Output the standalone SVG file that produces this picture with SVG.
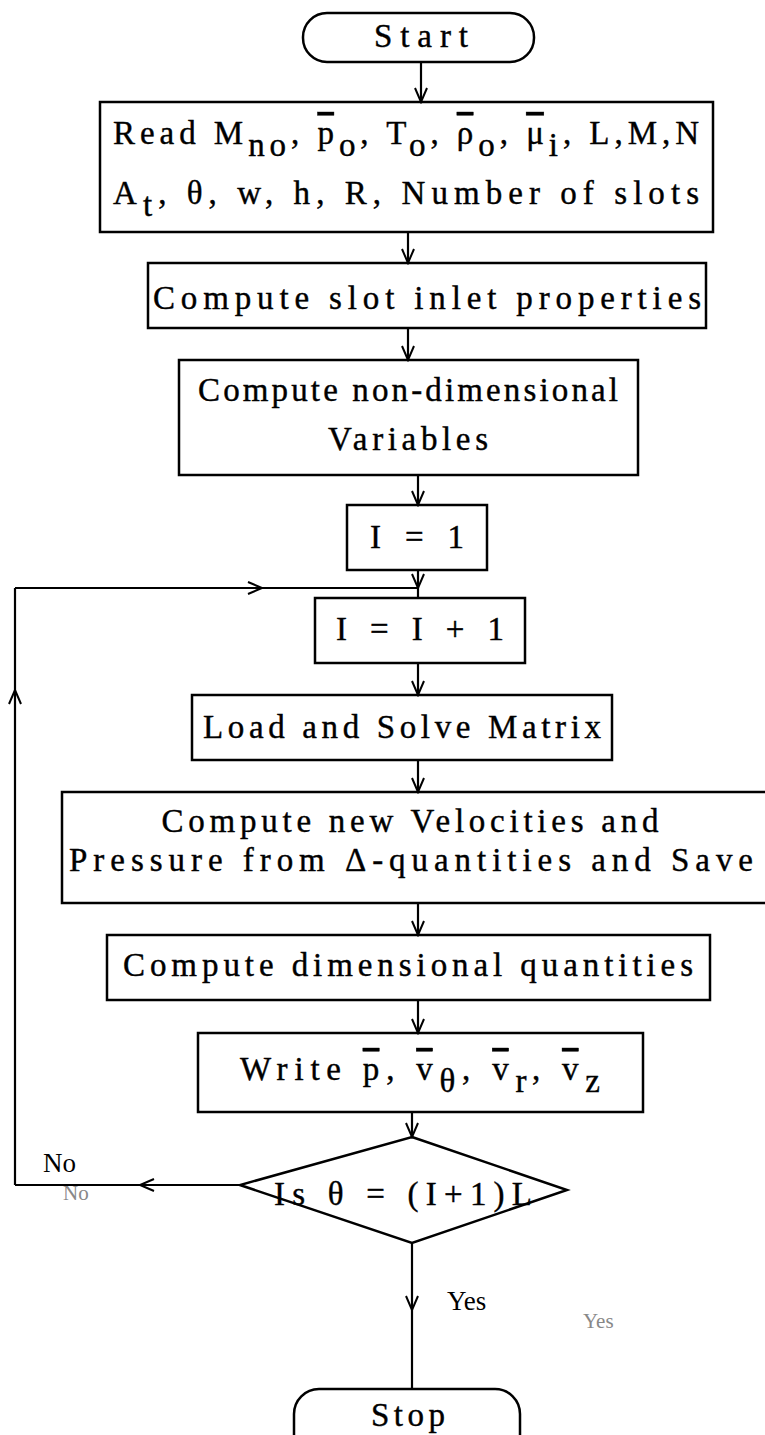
<svg xmlns="http://www.w3.org/2000/svg" width="765" height="1435" viewBox="0 0 765 1435">
<style>
.box{fill:none;stroke:#000;stroke-width:2.5}
.ln{fill:none;stroke:#000;stroke-width:2.2}
.t{font-family:"Liberation Serif","DejaVu Serif",serif;font-size:33px;fill:#000;stroke:#000;stroke-width:0.4;text-anchor:middle}
.ov{text-decoration:overline}
.lab{font-family:"Liberation Serif","DejaVu Serif",serif;font-size:27px;fill:#000}
.ghost{font-family:"Liberation Serif","DejaVu Serif",serif;font-size:21px;fill:#888}
</style>
<defs>
<marker id="arr" viewBox="-16 -9 18 18" refX="0" refY="0" markerWidth="18" markerHeight="18" markerUnits="userSpaceOnUse" orient="auto">
<path d="M-14,-6 L0,0 L-14,6" fill="none" stroke="#000" stroke-width="2"/>
</marker>
</defs>
<rect width="765" height="1435" fill="#fff"/>

<g id="connectors">
<line class="ln" x1="421" y1="62" x2="421" y2="102" marker-end="url(#arr)"/>
<line class="ln" x1="408" y1="232" x2="408" y2="263" marker-end="url(#arr)"/>
<line class="ln" x1="408" y1="328" x2="408" y2="360" marker-end="url(#arr)"/>
<line class="ln" x1="418" y1="475" x2="418" y2="505" marker-end="url(#arr)"/>
<line class="ln" x1="418" y1="570" x2="418" y2="588" marker-end="url(#arr)"/>
<line class="ln" x1="418" y1="588" x2="418" y2="598"/>
<line class="ln" x1="418" y1="663" x2="418" y2="695" marker-end="url(#arr)"/>
<line class="ln" x1="418" y1="760" x2="418" y2="792" marker-end="url(#arr)"/>
<line class="ln" x1="418" y1="903" x2="418" y2="935" marker-end="url(#arr)"/>
<line class="ln" x1="418" y1="1000" x2="418" y2="1033" marker-end="url(#arr)"/>
<line class="ln" x1="412" y1="1112" x2="412" y2="1137" marker-end="url(#arr)"/>
<line class="ln" x1="412" y1="1243" x2="412" y2="1310" marker-end="url(#arr)"/>
<line class="ln" x1="412" y1="1310" x2="412" y2="1389"/>
<line class="ln" x1="240" y1="1185" x2="140" y2="1185" marker-end="url(#arr)"/>
<line class="ln" x1="140" y1="1185" x2="15" y2="1185"/>
<line class="ln" x1="15" y1="1185" x2="15" y2="690" marker-end="url(#arr)"/>
<line class="ln" x1="15" y1="690" x2="15" y2="588"/>
<line class="ln" x1="15" y1="588" x2="262" y2="588" marker-end="url(#arr)"/>
<line class="ln" x1="262" y1="588" x2="418" y2="588"/>
</g>

<g id="start">
<rect class="box" x="303" y="13" width="231" height="49" rx="24" ry="24"/>
<text class="t" x="421" y="47" textLength="94" lengthAdjust="spacing">Start</text>
</g>

<g id="read">
<rect class="box" x="100" y="102" width="613" height="130"/>
<text class="t" x="406" y="144" textLength="586" lengthAdjust="spacing">Read M<tspan dy="12">no</tspan><tspan dy="-12">, </tspan><tspan class="ov">p</tspan><tspan dy="12">o</tspan><tspan dy="-12">, T</tspan><tspan dy="12">o</tspan><tspan dy="-12">, </tspan><tspan class="ov">ρ</tspan><tspan dy="12">o</tspan><tspan dy="-12">, </tspan><tspan class="ov">μ</tspan><tspan dy="12">i</tspan><tspan dy="-12">, L,M,N</tspan></text>
<text class="t" x="406" y="204" textLength="586" lengthAdjust="spacing">A<tspan dy="12">t</tspan><tspan dy="-12">, θ, w, h, R, Number of slots</tspan></text>
</g>

<g id="slot">
<rect class="box" x="148" y="263" width="558" height="65"/>
<text class="t" x="427" y="309" textLength="548" lengthAdjust="spacing">Compute slot inlet properties</text>
</g>

<g id="nondim">
<rect class="box" x="179" y="360" width="459" height="115"/>
<text class="t" x="408" y="401" textLength="420" lengthAdjust="spacing">Compute non-dimensional</text>
<text class="t" x="408" y="450" textLength="160" lengthAdjust="spacing">Variables</text>
</g>

<g id="i1">
<rect class="box" x="347" y="505" width="140" height="65"/>
<text class="t" x="417" y="548" textLength="94" lengthAdjust="spacing">I = 1</text>
</g>

<g id="i2">
<rect class="box" x="315" y="598" width="210" height="65"/>
<text class="t" x="420" y="640" textLength="168" lengthAdjust="spacing">I = I + 1</text>
</g>

<g id="load">
<rect class="box" x="192" y="695" width="420" height="65"/>
<text class="t" x="402" y="738" textLength="398" lengthAdjust="spacing">Load and Solve Matrix</text>
</g>

<g id="velocities">
<rect class="box" x="62" y="792" width="710" height="111"/>
<text class="t" x="410" y="832" textLength="497" lengthAdjust="spacing">Compute new Velocities and</text>
<text class="t" x="411" y="871" textLength="684" lengthAdjust="spacing">Pressure from Δ-quantities and Save</text>
</g>

<g id="dimensional">
<rect class="box" x="107" y="935" width="603" height="65"/>
<text class="t" x="408" y="976" textLength="570" lengthAdjust="spacing">Compute dimensional quantities</text>
</g>

<g id="write">
<rect class="box" x="198" y="1033" width="445" height="79"/>
<text class="t" x="420" y="1080" textLength="360" lengthAdjust="spacing">Write <tspan class="ov">p</tspan>, <tspan class="ov">v</tspan><tspan dy="12">θ</tspan><tspan dy="-12">, </tspan><tspan class="ov">v</tspan><tspan dy="12">r</tspan><tspan dy="-12">, </tspan><tspan class="ov">v</tspan><tspan dy="12">z</tspan></text>
</g>

<g id="decision">
<polygon class="box" points="412,1137 567,1190 412,1243 240,1185"/>
<text class="t" x="403" y="1205" textLength="258" lengthAdjust="spacing">Is θ = (I+1)L</text>
</g>

<g id="labels">
<text class="lab" x="43" y="1172">No</text>
<text class="ghost" x="63" y="1200">No</text>
<text class="lab" x="447" y="1310">Yes</text>
<text class="ghost" x="583" y="1328">Yes</text>
</g>

<g id="stop">
<rect class="box" x="294" y="1389" width="226" height="80" rx="25" ry="25"/>
<text class="t" x="408" y="1426" textLength="74" lengthAdjust="spacing">Stop</text>
</g>
</svg>
